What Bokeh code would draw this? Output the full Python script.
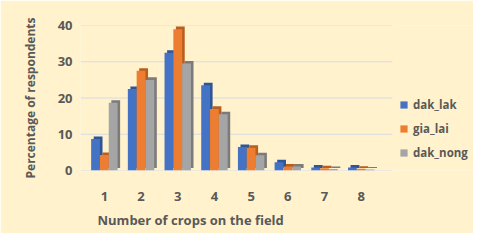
from bokeh.plotting import figure
from bokeh.models import Range1d, FixedTicker, Legend, LegendItem, ColumnDataSource, Title
from bokeh.embed import file_html
from bokeh.resources import INLINE

# Data
crops = [1, 2, 3, 4, 5, 6, 7, 8]
dak_lak = [8.7, 22.5, 32.5, 23.5, 6.5, 2.3, 0.8, 0.8]
gia_lai = [4.3, 27.5, 39.0, 17.0, 6.3, 1.1, 0.6, 0.5]
dak_nong = [18.7, 25.0, 29.5, 15.5, 4.2, 1.1, 0.4, 0.3]
series_names = ["dak_lak", "gia_lai", "dak_nong"]
y_ticks = [0, 10, 20, 30, 40]

front_colors = ["#4472C4", "#ED7D31", "#A5A5A5"]
side_colors = ["#2F5597", "#B85E1E", "#7B7B7B"]
BG = "#FFF2CC"
TXT = "#595959"
FONT = "Open Sans"

# plot-area extent (bars region) and extra room on the right for the legend
X_LO, X_HI, X_END = 0.35, 8.85, 11.06

p = figure(width=473, height=233, output_backend="svg", toolbar_location=None,
           x_range=Range1d(X_LO, X_END), y_range=Range1d(0, 40))
p.min_border_left = 80
p.min_border_right = 0
p.min_border_top = 25
p.min_border_bottom = 2
p.background_fill_color = BG
p.border_fill_color = BG
p.outline_line_color = None

p.xgrid.grid_line_color = None
p.ygrid.grid_line_color = None
# horizontal gridlines limited to the bars region
p.segment(x0=[X_LO] * len(y_ticks), x1=[X_HI] * len(y_ticks), y0=y_ticks, y1=y_ticks,
          line_color="#D6DCE5", line_width=1.2)

p.xaxis.ticker = FixedTicker(ticks=crops)
p.yaxis.ticker = FixedTicker(ticks=y_ticks)
for ax in (p.xaxis, p.yaxis):
    ax.axis_line_color = None
    ax.major_tick_line_color = None
    ax.minor_tick_line_color = None
    ax.major_label_text_color = TXT
    ax.major_label_text_font = FONT
    ax.major_label_text_font_style = "bold"
    ax.axis_label_text_color = TXT
    ax.axis_label_text_font = FONT
    ax.axis_label_text_font_style = "bold"
p.xaxis.major_label_text_font_size = "13px"
p.yaxis.major_label_text_font_size = "13px"
p.xaxis.major_label_standoff = 15
p.yaxis.major_label_standoff = 2
p.yaxis.axis_label = "Percentage of respondents"
p.yaxis.axis_label_text_font_size = "12px"
p.yaxis.axis_label_standoff = 16

xtitle = Title(text="Number of crops on the field", align="left", offset=17,
               text_font=FONT, text_font_style="bold", text_font_size="13px",
               text_color=TXT, standoff=10)
p.add_layout(xtitle, "below")

width = 0.24
offsets = [-0.24, 0.0, 0.24]
values = [dak_lak, gia_lai, dak_nong]
items = []
for name, vals, off, fc, sc in zip(series_names, values, offsets, front_colors, side_colors):
    src = ColumnDataSource(dict(
        x=[c + off for c in crops],
        xs=[c + off + 0.07 for c in crops],
        top=vals,
        stop=[v + 0.7 for v in vals],
        sbot=[0.7] * len(vals),
    ))
    p.vbar(x="xs", top="stop", bottom="sbot", width=width, source=src,
           fill_color=sc, line_color=None)
    r = p.vbar(x="x", top="top", bottom=0, width=width, source=src,
               fill_color=fc, line_color=None)
    items.append(LegendItem(label=name, renderers=[r]))

legend = Legend(items=items, location=(319, 8), orientation="vertical")
legend.background_fill_alpha = 0
legend.border_line_color = None
legend.padding = 0
legend.margin = 0
legend.spacing = 4
legend.glyph_width = 9
legend.glyph_height = 9
legend.label_height = 20
legend.label_standoff = 5
legend.label_text_font = FONT
legend.label_text_font_style = "bold"
legend.label_text_font_size = "11.5px"
legend.label_text_color = TXT
p.add_layout(legend, "center")

open("out.html", "w").write(file_html(p, INLINE))
